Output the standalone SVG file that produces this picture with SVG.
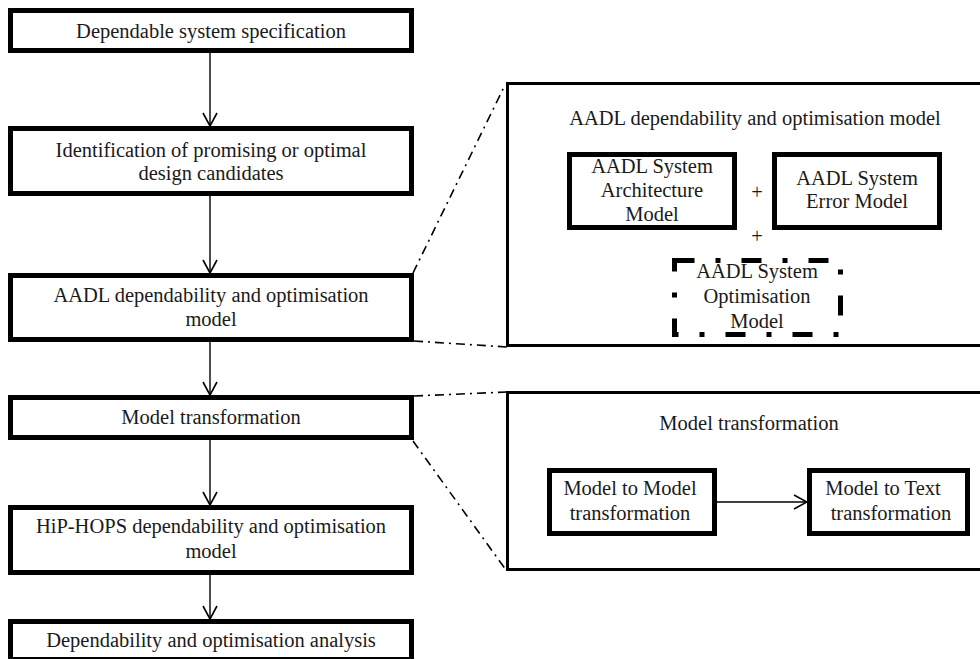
<svg xmlns="http://www.w3.org/2000/svg" width="980" height="659" viewBox="0 0 980 659">
  <style>
    .box { fill: #ffffff; stroke: #000000; stroke-width: 5; }
    .panel { fill: #ffffff; stroke: #000000; stroke-width: 3; }
    .dashed { stroke-dasharray: 20 21 5 21; }
    .flow { fill: none; stroke: #000000; stroke-width: 1.4; }
    .zoomline { fill: none; stroke: #000000; stroke-width: 1.6; stroke-dasharray: 9 5 2 5; }
  </style>
  <defs>
    <marker id="arrow" viewBox="0 0 16 16" refX="15" refY="8" markerWidth="16" markerHeight="16" markerUnits="userSpaceOnUse" orient="auto">
      <path d="M2,1 L15,8 L2,15" fill="none" stroke="#000000" stroke-width="1.6"/>
    </marker>
  </defs>
  <rect width="980" height="659" fill="#ffffff"/>

  <!-- zoom panels (drawn first so the detail lines meet their corners) -->
  <g id="panel-aadl"><rect class="panel" x="507.5" y="83.5" width="500" height="262"/></g>
  <g id="panel-transform"><rect class="panel" x="507.5" y="392.5" width="500" height="177"/></g>

  <!-- connectors -->
  <g id="connectors">
    <line class="flow" x1="210" y1="53" x2="210" y2="126" marker-end="url(#arrow)"/>
    <line class="flow" x1="210" y1="196" x2="210" y2="273" marker-end="url(#arrow)"/>
    <line class="flow" x1="210" y1="342" x2="210" y2="395" marker-end="url(#arrow)"/>
    <line class="flow" x1="210" y1="440" x2="210" y2="505" marker-end="url(#arrow)"/>
    <line class="flow" x1="210" y1="575" x2="210" y2="619" marker-end="url(#arrow)"/>
    <line class="flow" x1="717" y1="502" x2="807" y2="502" marker-end="url(#arrow)"/>
    <line class="zoomline" x1="413" y1="273" x2="505" y2="85"/>
    <line class="zoomline" x1="414" y1="341" x2="507" y2="347"/>
    <line class="zoomline" x1="414" y1="396" x2="507" y2="392"/>
    <line class="zoomline" x1="413" y1="441" x2="506" y2="570"/>
  </g>

  <!-- boxes -->
  <g id="spec"><rect class="box" x="10.5" y="10.5" width="401" height="40"/></g>
  <g id="candidates"><rect class="box" x="10.5" y="128.5" width="401" height="65"/></g>
  <g id="aadl-model"><rect class="box" x="10.5" y="275.5" width="401" height="64"/></g>
  <g id="transformation"><rect class="box" x="10.5" y="397.5" width="401" height="40"/></g>
  <g id="hiphops-model"><rect class="box" x="10.5" y="507.5" width="401" height="65"/></g>
  <g id="analysis"><rect class="box" x="10.5" y="621.5" width="401" height="38"/></g>
  <g id="architecture-model"><rect class="box" x="569.5" y="154.5" width="165" height="73"/></g>
  <g id="error-model"><rect class="box" x="774.5" y="154.5" width="165" height="73"/></g>
  <g id="optimisation-model"><rect class="box dashed" x="674.5" y="260.5" width="166" height="74"/></g>
  <g id="m2m"><rect class="box" x="549.5" y="470.5" width="165" height="63"/></g>
  <g id="m2t"><rect class="box" x="809.5" y="470.5" width="158" height="63"/></g>

  <!-- labels -->
  <g id="labels" font-family="serif" font-size="20.5" text-anchor="middle" fill="#1a1a1a">
    <text x="755" y="125">AADL dependability and optimisation model</text>
    <text x="749" y="430">Model transformation</text>
    <text x="211" y="38">Dependable system specification</text>
    <text x="211" y="157">Identification of promising or optimal</text>
    <text x="211" y="180">design candidates</text>
    <text x="211" y="302">AADL dependability and optimisation</text>
    <text x="211" y="326">model</text>
    <text x="211" y="424">Model transformation</text>
    <text x="211" y="533">HiP-HOPS dependability and optimisation</text>
    <text x="211" y="558">model</text>
    <text x="211" y="647">Dependability and optimisation analysis</text>
    <text x="652" y="173">AADL System</text>
    <text x="652" y="197">Architecture</text>
    <text x="652" y="221">Model</text>
    <text x="857" y="185">AADL System</text>
    <text x="857" y="208">Error Model</text>
    <text x="757" y="199">+</text>
    <text x="757" y="243">+</text>
    <text x="757" y="278">AADL System</text>
    <text x="757" y="303">Optimisation</text>
    <text x="757" y="328">Model</text>
    <text x="630" y="495">Model to Model</text>
    <text x="630" y="520">transformation</text>
    <text x="883" y="495">Model to Text</text>
    <text x="891" y="520">transformation</text>
  </g>
</svg>
